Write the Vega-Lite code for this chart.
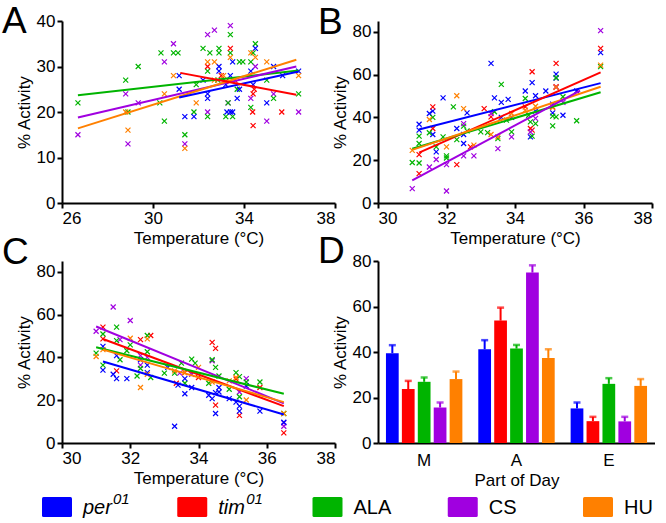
{
"$schema":"https://vega.github.io/schema/vega-lite/v6.json",
"padding":{"left":2,"top":3,"right":0,"bottom":0},
"config":{"view":{"stroke":null},"font":"Liberation Sans",
 "axis":{"domainColor":"black","domainWidth":2,"tickColor":"black","tickWidth":2,"tickSize":5,"labelColor":"black","labelFontSize":17,"titleFontSize":17,"titleFontWeight":"normal","titleColor":"black","grid":false,"labelPadding":2,"titlePadding":3},
 "axisY":{"titleX":-29},
 "axisX":{"titleY":27},
 "title":{"fontSize":37,"fontWeight":"normal","color":"black","anchor":"start","frame":"group","baseline":"alphabetic"}},
"datasets":{
"scatter":[
{"p":"A","g":"CS","t":26.7,"a":15},{"p":"A","g":"CS","t":28.8,"a":24},{"p":"A","g":"CS","t":28.9,"a":13},{"p":"A","g":"CS","t":29.35,"a":22},{"p":"A","g":"CS","t":30.5,"a":31},{"p":"A","g":"CS","t":30.9,"a":35},{"p":"A","g":"CS","t":31.4,"a":13},{"p":"A","g":"CS","t":32.4,"a":37},{"p":"A","g":"CS","t":32.4,"a":20},{"p":"A","g":"CS","t":32.7,"a":38},{"p":"A","g":"CS","t":33.4,"a":39},{"p":"A","g":"CS","t":33.3,"a":22},{"p":"A","g":"CS","t":34.3,"a":23},{"p":"A","g":"CS","t":34.5,"a":30},{"p":"A","g":"CS","t":35.0,"a":18},{"p":"A","g":"CS","t":35.3,"a":24},{"p":"A","g":"CS","t":36.4,"a":20},
{"p":"A","g":"ALA","t":26.7,"a":22},{"p":"A","g":"ALA","t":28.8,"a":27},{"p":"A","g":"ALA","t":28.9,"a":20},{"p":"A","g":"ALA","t":29.35,"a":30},{"p":"A","g":"ALA","t":30.3,"a":22},{"p":"A","g":"ALA","t":30.35,"a":33},{"p":"A","g":"ALA","t":30.5,"a":18},{"p":"A","g":"ALA","t":30.9,"a":33},{"p":"A","g":"ALA","t":31.1,"a":33},{"p":"A","g":"ALA","t":31.4,"a":15},{"p":"A","g":"ALA","t":31.8,"a":20},{"p":"A","g":"ALA","t":31.9,"a":26},{"p":"A","g":"ALA","t":32.2,"a":34},{"p":"A","g":"ALA","t":32.4,"a":29},{"p":"A","g":"ALA","t":32.4,"a":19},{"p":"A","g":"ALA","t":32.5,"a":33},{"p":"A","g":"ALA","t":32.9,"a":34},{"p":"A","g":"ALA","t":32.9,"a":33},{"p":"A","g":"ALA","t":32.85,"a":27},{"p":"A","g":"ALA","t":33.2,"a":19},{"p":"A","g":"ALA","t":33.4,"a":37},{"p":"A","g":"ALA","t":33.4,"a":33},{"p":"A","g":"ALA","t":33.3,"a":22},{"p":"A","g":"ALA","t":33.5,"a":19},{"p":"A","g":"ALA","t":33.8,"a":31},{"p":"A","g":"ALA","t":33.95,"a":31},{"p":"A","g":"ALA","t":33.7,"a":25},{"p":"A","g":"ALA","t":34.3,"a":31},{"p":"A","g":"ALA","t":34.3,"a":21},{"p":"A","g":"ALA","t":34.4,"a":33},{"p":"A","g":"ALA","t":34.5,"a":35},{"p":"A","g":"ALA","t":35.0,"a":27},{"p":"A","g":"ALA","t":35.3,"a":23},{"p":"A","g":"ALA","t":36.4,"a":24},
{"p":"A","g":"per01","t":31.15,"a":28},{"p":"A","g":"per01","t":31.15,"a":25},{"p":"A","g":"per01","t":31.4,"a":19},{"p":"A","g":"per01","t":31.8,"a":19},{"p":"A","g":"per01","t":32.2,"a":27},{"p":"A","g":"per01","t":32.4,"a":24},{"p":"A","g":"per01","t":32.4,"a":23},{"p":"A","g":"per01","t":32.9,"a":30},{"p":"A","g":"per01","t":32.9,"a":29},{"p":"A","g":"per01","t":33.2,"a":26},{"p":"A","g":"per01","t":33.25,"a":20},{"p":"A","g":"per01","t":33.4,"a":20},{"p":"A","g":"per01","t":33.4,"a":28},{"p":"A","g":"per01","t":33.5,"a":31},{"p":"A","g":"per01","t":33.5,"a":20},{"p":"A","g":"per01","t":33.7,"a":23},{"p":"A","g":"per01","t":33.8,"a":25},{"p":"A","g":"per01","t":34.3,"a":29},{"p":"A","g":"per01","t":34.4,"a":26},{"p":"A","g":"per01","t":34.5,"a":34},{"p":"A","g":"per01","t":35.0,"a":22},{"p":"A","g":"per01","t":35.3,"a":30},{"p":"A","g":"per01","t":35.7,"a":28},{"p":"A","g":"per01","t":36.4,"a":29},
{"p":"A","g":"tim01","t":32.4,"a":30},{"p":"A","g":"tim01","t":33.0,"a":28},{"p":"A","g":"tim01","t":33.2,"a":26.7},{"p":"A","g":"tim01","t":33.4,"a":34},{"p":"A","g":"tim01","t":33.6,"a":27},{"p":"A","g":"tim01","t":34.38,"a":20},{"p":"A","g":"tim01","t":34.4,"a":24},{"p":"A","g":"tim01","t":34.4,"a":17},{"p":"A","g":"tim01","t":34.45,"a":25},{"p":"A","g":"tim01","t":35.66,"a":20},
{"p":"A","g":"HU","t":28.8,"a":20},{"p":"A","g":"HU","t":28.9,"a":16},{"p":"A","g":"HU","t":30.5,"a":24},{"p":"A","g":"HU","t":30.9,"a":28},{"p":"A","g":"HU","t":31.4,"a":12},{"p":"A","g":"HU","t":31.9,"a":22},{"p":"A","g":"HU","t":32.4,"a":31},{"p":"A","g":"HU","t":32.7,"a":31},{"p":"A","g":"HU","t":33.1,"a":28},{"p":"A","g":"HU","t":33.4,"a":32},{"p":"A","g":"HU","t":34.3,"a":33},{"p":"A","g":"HU","t":34.5,"a":32},{"p":"A","g":"HU","t":35.0,"a":31},{"p":"A","g":"HU","t":36.4,"a":28},{"p":"A","g":"HU","t":32.7,"a":27},
{"p":"B","g":"per01","t":31.2,"a":36.8},{"p":"B","g":"per01","t":31.2,"a":34},{"p":"B","g":"per01","t":31.5,"a":41.8},{"p":"B","g":"per01","t":31.6,"a":42.9},{"p":"B","g":"per01","t":31.6,"a":32},{"p":"B","g":"per01","t":31.7,"a":23.9},{"p":"B","g":"per01","t":31.9,"a":49.1},{"p":"B","g":"per01","t":32.3,"a":34.8},{"p":"B","g":"per01","t":32.5,"a":27.8},{"p":"B","g":"per01","t":32.5,"a":32},{"p":"B","g":"per01","t":32.6,"a":42.1},{"p":"B","g":"per01","t":33.3,"a":65.2},{"p":"B","g":"per01","t":33.4,"a":49.1},{"p":"B","g":"per01","t":33.6,"a":47},{"p":"B","g":"per01","t":33.8,"a":48.4},{"p":"B","g":"per01","t":33.9,"a":40},{"p":"B","g":"per01","t":34.3,"a":52.3},{"p":"B","g":"per01","t":34.45,"a":30.9},{"p":"B","g":"per01","t":34.5,"a":56.2},{"p":"B","g":"per01","t":34.6,"a":42.9},{"p":"B","g":"per01","t":34.6,"a":50.1},{"p":"B","g":"per01","t":34.9,"a":52.3},{"p":"B","g":"per01","t":35.1,"a":46.2},{"p":"B","g":"per01","t":35.1,"a":42.1},{"p":"B","g":"per01","t":35.2,"a":60.2},{"p":"B","g":"per01","t":35.2,"a":58.3},{"p":"B","g":"per01","t":35.4,"a":41},{"p":"B","g":"per01","t":35.8,"a":52.3},{"p":"B","g":"per01","t":36.5,"a":70.2},{"p":"B","g":"per01","t":33.6,"a":40},
{"p":"B","g":"tim01","t":31.2,"a":22.6},{"p":"B","g":"tim01","t":31.2,"a":13.7},{"p":"B","g":"tim01","t":31.6,"a":44.9},{"p":"B","g":"tim01","t":31.6,"a":34.8},{"p":"B","g":"tim01","t":32.3,"a":17.9},{"p":"B","g":"tim01","t":33.1,"a":44.1},{"p":"B","g":"tim01","t":33.3,"a":40.2},{"p":"B","g":"tim01","t":34.3,"a":44.9},{"p":"B","g":"tim01","t":34.45,"a":34.8},{"p":"B","g":"tim01","t":34.5,"a":61.3},{"p":"B","g":"tim01","t":34.5,"a":34},{"p":"B","g":"tim01","t":35.1,"a":44.9},{"p":"B","g":"tim01","t":35.2,"a":65.2},{"p":"B","g":"tim01","t":35.2,"a":54.3},{"p":"B","g":"tim01","t":36.5,"a":72.2},{"p":"B","g":"tim01","t":32.7,"a":26.2},
{"p":"B","g":"ALA","t":31.0,"a":18.9},{"p":"B","g":"ALA","t":31.2,"a":31.2},{"p":"B","g":"ALA","t":31.2,"a":27.8},{"p":"B","g":"ALA","t":31.2,"a":18.7},{"p":"B","g":"ALA","t":31.6,"a":40},{"p":"B","g":"ALA","t":31.5,"a":32.8},{"p":"B","g":"ALA","t":31.7,"a":26.2},{"p":"B","g":"ALA","t":31.9,"a":30.9},{"p":"B","g":"ALA","t":32.0,"a":22},{"p":"B","g":"ALA","t":32.0,"a":21},{"p":"B","g":"ALA","t":32.2,"a":44.9},{"p":"B","g":"ALA","t":32.3,"a":29.6},{"p":"B","g":"ALA","t":32.5,"a":35.9},{"p":"B","g":"ALA","t":32.6,"a":33.7},{"p":"B","g":"ALA","t":33.0,"a":33.2},{"p":"B","g":"ALA","t":33.2,"a":32.9},{"p":"B","g":"ALA","t":33.4,"a":42.6},{"p":"B","g":"ALA","t":33.5,"a":30.1},{"p":"B","g":"ALA","t":33.6,"a":55.4},{"p":"B","g":"ALA","t":33.75,"a":38.7},{"p":"B","g":"ALA","t":33.9,"a":33.2},{"p":"B","g":"ALA","t":34.3,"a":48.8},{"p":"B","g":"ALA","t":34.45,"a":37.9},{"p":"B","g":"ALA","t":34.5,"a":31.2},{"p":"B","g":"ALA","t":34.6,"a":37.1},{"p":"B","g":"ALA","t":35.1,"a":40.6},{"p":"B","g":"ALA","t":35.1,"a":36},{"p":"B","g":"ALA","t":35.2,"a":58.5},{"p":"B","g":"ALA","t":35.2,"a":40.2},{"p":"B","g":"ALA","t":35.4,"a":49.6},{"p":"B","g":"ALA","t":35.8,"a":38.4},{"p":"B","g":"ALA","t":36.5,"a":63.7},{"p":"B","g":"ALA","t":34.4,"a":41},
{"p":"B","g":"CS","t":31.0,"a":6.7},{"p":"B","g":"CS","t":31.5,"a":16.8},{"p":"B","g":"CS","t":31.7,"a":20.3},{"p":"B","g":"CS","t":32.0,"a":17.9},{"p":"B","g":"CS","t":32.0,"a":5.6},{"p":"B","g":"CS","t":32.5,"a":37.1},{"p":"B","g":"CS","t":32.5,"a":22},{"p":"B","g":"CS","t":32.8,"a":22},{"p":"B","g":"CS","t":33.3,"a":41.8},{"p":"B","g":"CS","t":33.9,"a":30.9},{"p":"B","g":"CS","t":34.45,"a":33.2},{"p":"B","g":"CS","t":34.6,"a":39.5},{"p":"B","g":"CS","t":35.2,"a":54},{"p":"B","g":"CS","t":35.4,"a":47},{"p":"B","g":"CS","t":36.5,"a":80.5},{"p":"B","g":"CS","t":33.5,"a":25.4},
{"p":"B","g":"HU","t":31.0,"a":24.6},{"p":"B","g":"HU","t":31.5,"a":39},{"p":"B","g":"HU","t":32.0,"a":26.2},{"p":"B","g":"HU","t":32.3,"a":50.1},{"p":"B","g":"HU","t":32.5,"a":44.1},{"p":"B","g":"HU","t":32.8,"a":27},{"p":"B","g":"HU","t":33.3,"a":32},{"p":"B","g":"HU","t":33.9,"a":41.8},{"p":"B","g":"HU","t":34.3,"a":43.4},{"p":"B","g":"HU","t":34.6,"a":45.2},{"p":"B","g":"HU","t":35.1,"a":44.6},{"p":"B","g":"HU","t":35.2,"a":54},{"p":"B","g":"HU","t":36.5,"a":64.4},{"p":"B","g":"HU","t":33.5,"a":30.9},
{"p":"C","g":"CS","t":31.0,"a":52.2},{"p":"C","g":"CS","t":31.5,"a":63.5},{"p":"C","g":"CS","t":31.7,"a":48.3},{"p":"C","g":"CS","t":32.0,"a":57.2},{"p":"C","g":"CS","t":32.3,"a":40.8},{"p":"C","g":"CS","t":32.3,"a":36.4},{"p":"C","g":"CS","t":32.5,"a":40},{"p":"C","g":"CS","t":33.45,"a":32.6},{"p":"C","g":"CS","t":33.8,"a":32.1},{"p":"C","g":"CS","t":34.4,"a":38.4},{"p":"C","g":"CS","t":35.2,"a":23.8},{"p":"C","g":"CS","t":35.4,"a":30.1},{"p":"C","g":"CS","t":36.5,"a":7.8},{"p":"C","g":"CS","t":36.5,"a":9.4},
{"p":"C","g":"tim01","t":31.2,"a":54.1},{"p":"C","g":"tim01","t":31.2,"a":48.6},{"p":"C","g":"tim01","t":31.6,"a":33.7},{"p":"C","g":"tim01","t":32.3,"a":48.3},{"p":"C","g":"tim01","t":32.6,"a":50.2},{"p":"C","g":"tim01","t":33.35,"a":27.9},{"p":"C","g":"tim01","t":33.6,"a":32.9},{"p":"C","g":"tim01","t":34.4,"a":47},{"p":"C","g":"tim01","t":34.5,"a":44.2},{"p":"C","g":"tim01","t":34.5,"a":17.7},{"p":"C","g":"tim01","t":35.1,"a":29.8},{"p":"C","g":"tim01","t":35.2,"a":12.9},{"p":"C","g":"tim01","t":35.8,"a":25.9},{"p":"C","g":"tim01","t":36.5,"a":4.7},{"p":"C","g":"tim01","t":34.0,"a":30.6},
{"p":"C","g":"ALA","t":31.0,"a":42},{"p":"C","g":"ALA","t":31.2,"a":36.4},{"p":"C","g":"ALA","t":31.2,"a":50.9},{"p":"C","g":"ALA","t":31.6,"a":54.1},{"p":"C","g":"ALA","t":31.7,"a":38.9},{"p":"C","g":"ALA","t":31.9,"a":43.1},{"p":"C","g":"ALA","t":32.0,"a":45.8},{"p":"C","g":"ALA","t":32.2,"a":31.3},{"p":"C","g":"ALA","t":32.3,"a":34.8},{"p":"C","g":"ALA","t":32.5,"a":50.2},{"p":"C","g":"ALA","t":32.5,"a":42.6},{"p":"C","g":"ALA","t":32.6,"a":30.6},{"p":"C","g":"ALA","t":33.0,"a":32.6},{"p":"C","g":"ALA","t":33.3,"a":32.6},{"p":"C","g":"ALA","t":33.5,"a":37.3},{"p":"C","g":"ALA","t":33.6,"a":27.9},{"p":"C","g":"ALA","t":33.8,"a":39.2},{"p":"C","g":"ALA","t":33.9,"a":37.3},{"p":"C","g":"ALA","t":34.3,"a":27.9},{"p":"C","g":"ALA","t":34.4,"a":38.9},{"p":"C","g":"ALA","t":34.5,"a":35.3},{"p":"C","g":"ALA","t":34.6,"a":31.3},{"p":"C","g":"ALA","t":34.9,"a":25.1},{"p":"C","g":"ALA","t":35.1,"a":32.9},{"p":"C","g":"ALA","t":35.2,"a":31},{"p":"C","g":"ALA","t":35.2,"a":21.6},{"p":"C","g":"ALA","t":35.4,"a":28.5},{"p":"C","g":"ALA","t":35.8,"a":28.5},{"p":"C","g":"ALA","t":36.5,"a":13.8},{"p":"C","g":"ALA","t":31.6,"a":47.8},
{"p":"C","g":"per01","t":31.2,"a":45.1},{"p":"C","g":"per01","t":31.2,"a":34},{"p":"C","g":"per01","t":31.5,"a":32.1},{"p":"C","g":"per01","t":31.6,"a":40.8},{"p":"C","g":"per01","t":31.6,"a":30.1},{"p":"C","g":"per01","t":31.9,"a":30.1},{"p":"C","g":"per01","t":32.3,"a":38.9},{"p":"C","g":"per01","t":32.5,"a":36.4},{"p":"C","g":"per01","t":32.5,"a":32.9},{"p":"C","g":"per01","t":33.1,"a":35.3},{"p":"C","g":"per01","t":33.3,"a":7.8},{"p":"C","g":"per01","t":33.4,"a":27},{"p":"C","g":"per01","t":33.6,"a":30.1},{"p":"C","g":"per01","t":33.6,"a":23},{"p":"C","g":"per01","t":33.8,"a":25.9},{"p":"C","g":"per01","t":34.3,"a":22.3},{"p":"C","g":"per01","t":34.4,"a":20.7},{"p":"C","g":"per01","t":34.5,"a":23.5},{"p":"C","g":"per01","t":34.5,"a":13.8},{"p":"C","g":"per01","t":34.6,"a":25.9},{"p":"C","g":"per01","t":34.6,"a":23.8},{"p":"C","g":"per01","t":34.9,"a":20.7},{"p":"C","g":"per01","t":35.1,"a":19.1},{"p":"C","g":"per01","t":35.2,"a":17.2},{"p":"C","g":"per01","t":35.2,"a":14.9},{"p":"C","g":"per01","t":35.4,"a":26.6},{"p":"C","g":"per01","t":35.8,"a":14.9},{"p":"C","g":"per01","t":36.5,"a":9.7},
{"p":"C","g":"HU","t":31.0,"a":40.4},{"p":"C","g":"HU","t":31.2,"a":43.6},{"p":"C","g":"HU","t":32.0,"a":48.9},{"p":"C","g":"HU","t":32.3,"a":25.9},{"p":"C","g":"HU","t":32.5,"a":48.6},{"p":"C","g":"HU","t":32.5,"a":32.1},{"p":"C","g":"HU","t":33.3,"a":33.7},{"p":"C","g":"HU","t":33.6,"a":32.9},{"p":"C","g":"HU","t":34.0,"a":35.3},{"p":"C","g":"HU","t":34.9,"a":29},{"p":"C","g":"HU","t":35.1,"a":30.6},{"p":"C","g":"HU","t":35.4,"a":20.1},{"p":"C","g":"HU","t":36.5,"a":13.8},{"p":"C","g":"HU","t":34.4,"a":28.5}
],
"lines":[
{"p":"A","g":"ALA","t":26.7,"a":23.7},{"p":"A","g":"ALA","t":36.4,"a":29.1},
{"p":"A","g":"CS","t":26.7,"a":18.8},{"p":"A","g":"CS","t":36.3,"a":30.0},
{"p":"A","g":"HU","t":26.7,"a":16.4},{"p":"A","g":"HU","t":36.3,"a":31.5},
{"p":"A","g":"per01","t":31.15,"a":23.2},{"p":"A","g":"per01","t":36.4,"a":28.9},
{"p":"A","g":"tim01","t":31.2,"a":28.6},{"p":"A","g":"tim01","t":36.3,"a":23.8},
{"p":"B","g":"per01","t":31.2,"a":34.3},{"p":"B","g":"per01","t":36.5,"a":56.0},
{"p":"B","g":"tim01","t":31.2,"a":23.5},{"p":"B","g":"tim01","t":36.5,"a":61.0},
{"p":"B","g":"ALA","t":31.0,"a":25.3},{"p":"B","g":"ALA","t":36.5,"a":51.7},
{"p":"B","g":"HU","t":31.0,"a":24.8},{"p":"B","g":"HU","t":36.5,"a":54.3},
{"p":"B","g":"CS","t":31.0,"a":10.6},{"p":"B","g":"CS","t":35.9,"a":52.5},
{"p":"C","g":"per01","t":31.2,"a":38.1},{"p":"C","g":"per01","t":36.5,"a":13.3},
{"p":"C","g":"tim01","t":31.2,"a":48.6},{"p":"C","g":"tim01","t":36.5,"a":17.2},
{"p":"C","g":"CS","t":31.0,"a":54.4},{"p":"C","g":"CS","t":36.5,"a":18.5},
{"p":"C","g":"ALA","t":31.0,"a":44.7},{"p":"C","g":"ALA","t":36.5,"a":23.0},
{"p":"C","g":"HU","t":31.2,"a":43.6},{"p":"C","g":"HU","t":36.5,"a":19.1}
],
"bars":[
{"part":"M","g":"per01","m":39.5,"u":43.0},{"part":"M","g":"tim01","m":23.7,"u":27.3},{"part":"M","g":"ALA","m":26.9,"u":28.8},{"part":"M","g":"CS","m":15.6,"u":17.8},{"part":"M","g":"HU","m":28.1,"u":31.4},
{"part":"A","g":"per01","m":41.2,"u":45.2},{"part":"A","g":"tim01","m":53.8,"u":59.5},{"part":"A","g":"ALA","m":41.5,"u":43.1},{"part":"A","g":"CS","m":74.9,"u":78.1},{"part":"A","g":"HU","m":37.4,"u":41.2},
{"part":"E","g":"per01","m":15.2,"u":17.8},{"part":"E","g":"tim01","m":9.6,"u":11.5},{"part":"E","g":"ALA","m":26.0,"u":28.5},{"part":"E","g":"CS","m":9.5,"u":11.5},{"part":"E","g":"HU","m":25.1,"u":28.1}
],
"legend":[
{"g":"per01","lab":"per","sup":"01"},{"g":"tim01","lab":"tim","sup":"01"},{"g":"ALA","lab":"ALA","sup":""},{"g":"CS","lab":"CS","sup":""},{"g":"HU","lab":"HU","sup":""}
]
},
"columns":2,
"spacing":{"row":58,"column":43},
"bounds":"flush",
"concat":[
{"width":273,"height":182,
 "title":{"text":"A","dx":-60,"offset":-29},
 "layer":[
  {"data":{"name":"scatter"},"transform":[{"filter":"datum.p==='A'"}],
   "mark":{"type":"point","shape":"M-1,-1L1,1M-1,1L1,-1","filled":false,"size":25,"strokeWidth":1.2,"opacity":1},
   "encoding":{"x":{"field":"t","type":"quantitative","title":"Temperature (°C)","scale":{"domain":[26,38],"nice":false,"zero":false},"axis":{"values":[26,30,34,38]}},
    "y":{"field":"a","type":"quantitative","title":"% Activity","scale":{"domain":[0,40],"nice":false},"axis":{"values":[0,10,20,30,40]}},
    "color":{"field":"g","type":"nominal","scale":{"domain":["per01","tim01","ALA","CS","HU"],"range":["#0000ff","#ff0000","#00b400","#a000e0","#ff8000"]},"legend":null}}},
  {"data":{"name":"lines"},"transform":[{"filter":"datum.p==='A'"}],
   "mark":{"type":"line","strokeWidth":2},
   "encoding":{"x":{"field":"t","type":"quantitative","title":"Temperature (°C)"},"y":{"field":"a","type":"quantitative","title":"% Activity"},
    "color":{"field":"g","type":"nominal","legend":null}}}
 ]},
{"width":274,"height":182,
 "title":{"text":"B","dx":-60,"offset":-21},
 "layer":[
  {"data":{"name":"scatter"},"transform":[{"filter":"datum.p==='B'"}],
   "mark":{"type":"point","shape":"M-1,-1L1,1M-1,1L1,-1","filled":false,"size":25,"strokeWidth":1.2,"opacity":1},
   "encoding":{"x":{"field":"t","type":"quantitative","title":"Temperature (°C)","scale":{"domain":[30,38],"nice":false,"zero":false},"axis":{"values":[30,32,34,36,38]}},
    "y":{"field":"a","type":"quantitative","title":"% Activity","scale":{"domain":[0,85],"nice":false},"axis":{"values":[0,20,40,60,80]}},
    "color":{"field":"g","type":"nominal","scale":{"domain":["per01","tim01","ALA","CS","HU"],"range":["#0000ff","#ff0000","#00b400","#a000e0","#ff8000"]},"legend":null}}},
  {"data":{"name":"lines"},"transform":[{"filter":"datum.p==='B'"}],
   "mark":{"type":"line","strokeWidth":2},
   "encoding":{"x":{"field":"t","type":"quantitative","title":"Temperature (°C)"},"y":{"field":"a","type":"quantitative","title":"% Activity"},
    "color":{"field":"g","type":"nominal","legend":null}}}
 ]},
{"width":273,"height":182,
 "title":{"text":"C","dx":-60,"offset":-11},
 "layer":[
  {"data":{"name":"scatter"},"transform":[{"filter":"datum.p==='C'"}],
   "mark":{"type":"point","shape":"M-1,-1L1,1M-1,1L1,-1","filled":false,"size":25,"strokeWidth":1.2,"opacity":1},
   "encoding":{"x":{"field":"t","type":"quantitative","title":"Temperature (°C)","scale":{"domain":[30,38],"nice":false,"zero":false},"axis":{"values":[30,32,34,36,38]}},
    "y":{"field":"a","type":"quantitative","title":"% Activity","scale":{"domain":[0,85],"nice":false},"axis":{"values":[0,20,40,60,80]}},
    "color":{"field":"g","type":"nominal","scale":{"domain":["per01","tim01","ALA","CS","HU"],"range":["#0000ff","#ff0000","#00b400","#a000e0","#ff8000"]},"legend":null}}},
  {"data":{"name":"lines"},"transform":[{"filter":"datum.p==='C'"}],
   "mark":{"type":"line","strokeWidth":2},
   "encoding":{"x":{"field":"t","type":"quantitative","title":"Temperature (°C)"},"y":{"field":"a","type":"quantitative","title":"% Activity"},
    "color":{"field":"g","type":"nominal","legend":null}}}
 ]},
{"width":277,"height":182,
 "title":{"text":"D","dx":-60,"offset":-19},
 "data":{"name":"bars"},
 "encoding":{"x":{"field":"part","type":"nominal","sort":["M","A","E"],"title":"Part of Day","scale":{"paddingInner":0,"paddingOuter":0},"axis":{"labelAngle":0,"ticks":false,"labelPadding":9,"titleY":29}},
   "xOffset":{"field":"g","type":"nominal","sort":["per01","tim01","ALA","CS","HU"],"scale":{"paddingInner":0.2,"paddingOuter":0.5}},
   "color":{"field":"g","type":"nominal","scale":{"domain":["per01","tim01","ALA","CS","HU"],"range":["#0000ff","#ff0000","#00b400","#a000e0","#ff8000"]},"legend":null}},
 "layer":[
  {"mark":{"type":"bar"},"encoding":{"y":{"field":"m","type":"quantitative","title":"% Activity","scale":{"domain":[0,80],"nice":false},"axis":{"values":[0,20,40,60,80]}}}},
  {"mark":{"type":"rule","strokeWidth":2},"encoding":{"y":{"field":"m","type":"quantitative","title":"% Activity"},"y2":{"field":"u"}}},
  {"mark":{"type":"tick","thickness":2.5,"size":7},"encoding":{"y":{"field":"u","type":"quantitative","title":"% Activity"}}}
 ]},
{"width":273,"height":12,
 "data":{"name":"legend"},
 "encoding":{"x":{"field":"g","type":"nominal","sort":["per01","tim01","ALA","CS","HU"],"scale":{"type":"point","range":[-5,536],"padding":0},"axis":null}},
 "layer":[
  {"mark":{"type":"point","shape":"M-1.35,-1H1.35Q1.5,-1 1.5,-0.85V0.85Q1.5,1 1.35,1H-1.35Q-1.5,1 -1.5,0.85V-0.85Q-1.5,-1 -1.35,-1Z","filled":true,"size":400,"opacity":1},
   "encoding":{"color":{"field":"g","type":"nominal","scale":{"domain":["per01","tim01","ALA","CS","HU"],"range":["#0000ff","#ff0000","#00b400","#a000e0","#ff8000"]},"legend":null}}},
  {"transform":[{"filter":{"field":"g","oneOf":["per01","tim01"]}}],
   "mark":{"type":"text","align":"left","baseline":"middle","dx":26,"dy":1,"fontSize":20,"fontStyle":"italic","color":"black"},
   "encoding":{"text":{"field":"lab"}}},
  {"transform":[{"filter":{"not":{"field":"g","oneOf":["per01","tim01"]}}}],
   "mark":{"type":"text","align":"left","baseline":"middle","dx":26,"dy":1,"fontSize":20,"color":"black"},
   "encoding":{"text":{"field":"lab"}}},
  {"transform":[{"filter":{"field":"g","equal":"per01"}}],
   "mark":{"type":"text","align":"left","baseline":"middle","dx":56,"dy":-8,"fontSize":15,"fontStyle":"italic","color":"black"},
   "encoding":{"text":{"field":"sup"}}},
  {"transform":[{"filter":{"field":"g","equal":"tim01"}}],
   "mark":{"type":"text","align":"left","baseline":"middle","dx":54,"dy":-8,"fontSize":15,"fontStyle":"italic","color":"black"},
   "encoding":{"text":{"field":"sup"}}}
 ]}
]
}
